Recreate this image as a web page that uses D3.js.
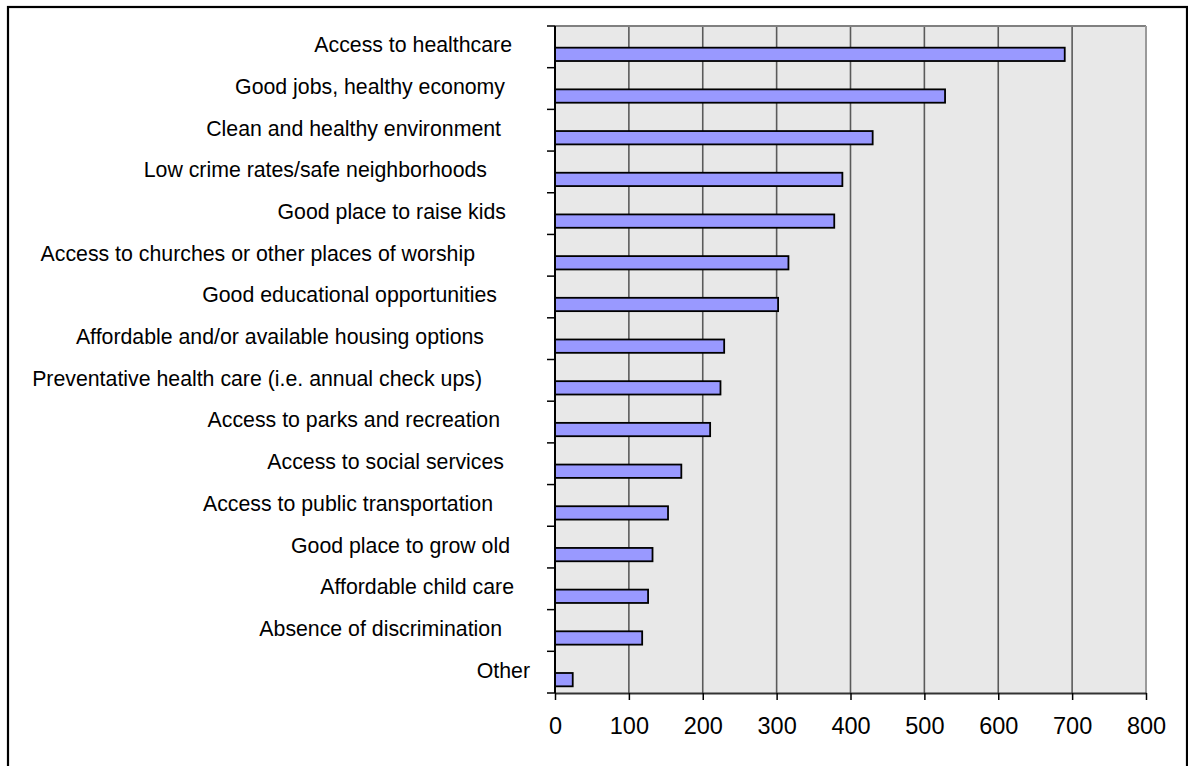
<!DOCTYPE html>
<html>
<head>
<meta charset="utf-8">
<script src="https://cdn.jsdelivr.net/npm/d3@7"></script>
<style>
  html, body { margin: 0; padding: 0; background: #fff; }
  svg { display: block; }
  text { font-family: "Liberation Sans", Arial, sans-serif; fill: #000; }
</style>
</head>
<body>
<svg id="chart" width="1188" height="766"></svg>
<script>
// ---- data ----
const categories = [
  "Access to healthcare",
  "Good jobs, healthy economy",
  "Clean and healthy environment",
  "Low crime rates/safe neighborhoods",
  "Good place to raise kids",
  "Access to churches or other places of worship",
  "Good educational opportunities",
  "Affordable and/or available housing options",
  "Preventative health care (i.e. annual check ups)",
  "Access to parks and recreation",
  "Access to social services",
  "Access to public transportation",
  "Good place to grow old",
  "Affordable child care",
  "Absence of discrimination",
  "Other"
];
const values = [690, 528, 430, 389, 378, 316, 302, 229, 224, 210, 171, 153, 132, 126, 118, 24];
const xTickValues = [0, 100, 200, 300, 400, 500, 600, 700, 800];

// ---- layout (not data) ----
// gap between each label's right end and the axis, as in the original
const labelGap = [43, 50, 54, 68, 49, 80, 58, 71, 73, 55, 51, 62, 45, 41, 53, 25];

const svg = d3.select("#chart");
const plot = { left: 555, right: 1146, top: 26, bottom: 693 };

const x = d3.scaleLinear().domain([0, 800]).range([plot.left, plot.right]);
const y = d3.scaleBand().domain(categories).range([plot.top, plot.bottom]).paddingInner(0).paddingOuter(0);

// outer frame
svg.append("rect").attr("x", 8).attr("y", 7).attr("width", 1179).attr("height", 780)
  .attr("fill", "#fff").attr("stroke", "#000").attr("stroke-width", 2.2);

// plot background
svg.append("rect").attr("x", plot.left).attr("y", plot.top)
  .attr("width", plot.right - plot.left).attr("height", plot.bottom - plot.top)
  .attr("fill", "#e8e8e8");

// gridlines
svg.append("g").selectAll("line").data(xTickValues.filter(d => d > 0 && d < 800)).join("line")
  .attr("x1", d => x(d)).attr("x2", d => x(d))
  .attr("y1", plot.top).attr("y2", plot.bottom)
  .attr("stroke", "#5a5a5a").attr("stroke-width", 1.6);

// plot border top/right
svg.append("line").attr("x1", plot.left).attr("x2", plot.right).attr("y1", plot.top).attr("y2", plot.top)
  .attr("stroke", "#808080").attr("stroke-width", 2);
svg.append("line").attr("x1", plot.right).attr("x2", plot.right).attr("y1", plot.top).attr("y2", plot.bottom)
  .attr("stroke", "#9a9a9a").attr("stroke-width", 2);

// bars (offset within band as in original)
const bw = y.bandwidth();
svg.append("g").selectAll("rect").data(categories).join("rect")
  .attr("x", x(0))
  .attr("y", d => y(d) + bw * 0.52)
  .attr("width", (d, i) => x(values[i]) - x(0))
  .attr("height", bw * 0.32)
  .attr("fill", "#9999ff")
  .attr("stroke", "#000")
  .attr("stroke-width", 1.8);

// x axis
const xAxis = d3.axisBottom(x).tickValues(xTickValues).tickSize(7).tickSizeOuter(0).tickPadding(17);
const gx = svg.append("g").attr("transform", `translate(0,${plot.bottom})`).call(xAxis);
gx.select(".domain").attr("stroke", "#333").attr("stroke-width", 2);
gx.selectAll(".tick line").attr("stroke", "#000").attr("stroke-width", 1.5);
gx.selectAll(".tick text").attr("font-size", 23.5).attr("font-family", "Liberation Sans, Arial, sans-serif").attr("fill", "#000");

// y axis: ticks at band boundaries
const boundaries = categories.map(c => y(c)).concat([plot.bottom]);
svg.append("g").selectAll("line").data(boundaries).join("line")
  .attr("x1", plot.left - 8).attr("x2", plot.left)
  .attr("y1", d => d).attr("y2", d => d)
  .attr("stroke", "#000").attr("stroke-width", 1.5);
svg.append("line").attr("x1", plot.left).attr("x2", plot.left)
  .attr("y1", plot.top).attr("y2", plot.bottom)
  .attr("stroke", "#000").attr("stroke-width", 2);

// category labels
svg.append("g").selectAll("text").data(categories).join("text")
  .attr("x", (d, i) => plot.left - labelGap[i])
  .attr("y", d => y(d) + bw / 2 - 2)
  .attr("dy", "0.35em")
  .attr("text-anchor", "end")
  .attr("font-size", 21.3)
  .text(d => d);
</script>
</body>
</html>
